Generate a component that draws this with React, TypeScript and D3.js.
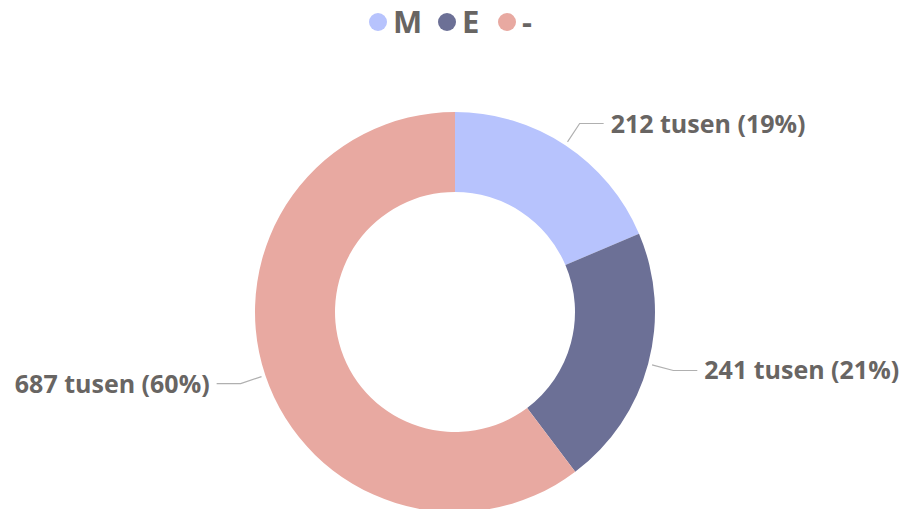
import React from "react";
import * as d3 from "d3";

const categories = ["M", "E", "-"];
const values = [212, 241, 687];
const labels = ["212 tusen (19%)", "241 tusen (21%)", "687 tusen (60%)"];
const colors = ["#b7c3fd", "#6c7096", "#e8a9a1"];

const W = 902;
const H = 509;
const cx = 455;
const cy = 312;
const outerR = 200;
const innerR = 120;
const textColor = "#686563";
const font = "'Open Sans', sans-serif";

export default function App() {
  const pie = d3.pie<number>().sort(null).startAngle(0).endAngle(2 * Math.PI);
  const arcs = pie(values);
  const arc = d3.arc<d3.PieArcDatum<number>>().innerRadius(innerR).outerRadius(outerR);

  const legendX = [378, 447, 507];

  return (
    <svg
      width={W}
      height={H}
      style={{ position: "absolute", left: 0, top: 0, background: "#fff" }}
    >
      <g>
        {categories.map((c, i) => (
          <g key={c}>
            <circle cx={legendX[i]} cy={22} r={9} fill={colors[i]} />
            <text
              x={legendX[i] + 15}
              y={22}
              dy="0.36em"
              fill={textColor}
              fontFamily={font}
              fontWeight={700}
              fontSize={31}
            >
              {c}
            </text>
          </g>
        ))}
      </g>
      <g transform={`translate(${cx},${cy})`}>
        {arcs.map((a, i) => (
          <path key={i} d={arc(a) || ""} fill={colors[i]} />
        ))}
        {arcs.map((a, i) => {
          const mid = (a.startAngle + a.endAngle) / 2;
          const s = Math.sin(mid);
          const c = -Math.cos(mid);
          const r0 = outerR + 4;
          const r1 = outerR + 26;
          const x0 = r0 * s, y0 = r0 * c;
          const x1 = r1 * s, y1 = r1 * c;
          const right = s >= 0;
          const x2 = x1 + (right ? 24 : -24);
          const tx = x1 + (right ? 31 : -31);
          return (
            <g key={"l" + i}>
              <polyline
                points={`${x0},${y0} ${x1},${y1} ${x2},${y1}`}
                fill="none"
                stroke="#b0b0b0"
                strokeWidth={1.2}
              />
              <text
                x={tx}
                y={y1}
                dy="0.36em"
                textAnchor={right ? "start" : "end"}
                fill={textColor}
                fontFamily={font}
                fontWeight={700}
                fontSize={25}
              >
                {labels[i]}
              </text>
            </g>
          );
        })}
      </g>
    </svg>
  );
}
